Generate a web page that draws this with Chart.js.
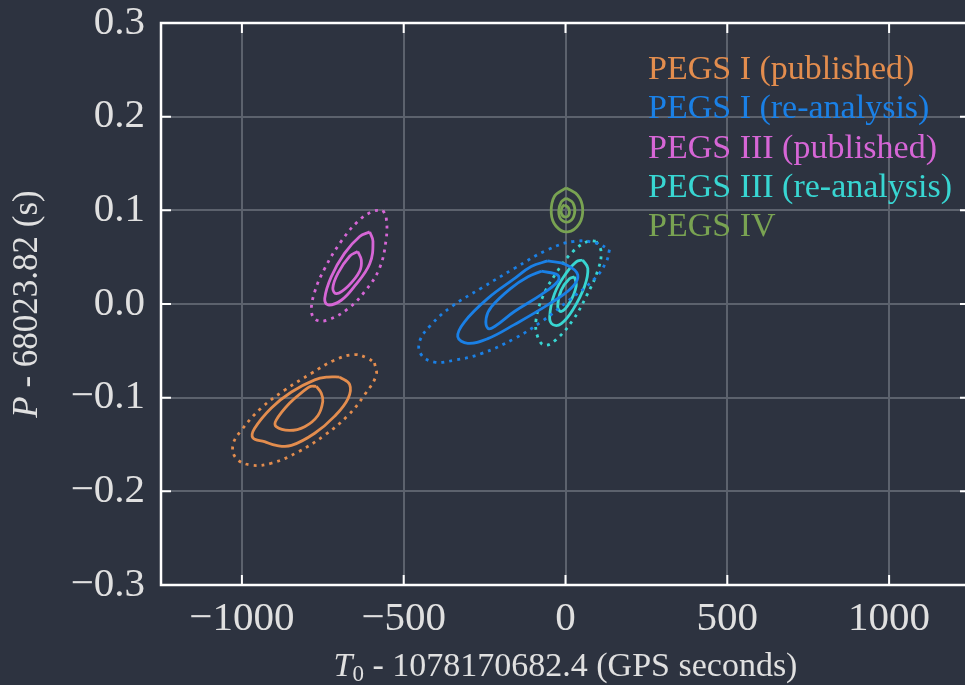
<!DOCTYPE html>
<html>
<head>
<meta charset="utf-8">
<script src="https://cdn.jsdelivr.net/npm/chart.js@4.4.0/dist/chart.umd.min.js"></script>
<style>
  html, body { margin: 0; padding: 0; background: #2d3340; overflow: hidden; }
  #wrap { width: 975px; height: 685px; }
</style>
</head>
<body>
<div id="wrap"><canvas id="chart"></canvas></div>
<script>
// axis ticks
const xTicks = [-1000, -500, 0, 500, 1000];
const yTicks = [-0.3, -0.2, -0.1, 0.0, 0.1, 0.2, 0.3];

const seriesNames = [
  "PEGS I (published)",
  "PEGS I (re-analysis)",
  "PEGS III (published)",
  "PEGS III (re-analysis)",
  "PEGS IV"
];

// contour outlines [T0, P]
const pegs1PubInner = [[-770,-0.088],[-755,-0.095],[-750,-0.104],[-765,-0.119],[-806,-0.131],[-853,-0.135],[-894,-0.131],[-894,-0.124],[-853,-0.106],[-806,-0.092],[-788,-0.088]];
const pegs1PubMid = [[-698,-0.078],[-667,-0.086],[-672,-0.101],[-714,-0.120],[-775,-0.138],[-847,-0.151],[-894,-0.151],[-930,-0.147],[-966,-0.143],[-961,-0.133],[-909,-0.111],[-847,-0.094],[-775,-0.081],[-734,-0.078]];
const pegs1PubOuter = [[-590,-0.063],[-585,-0.076],[-621,-0.097],[-672,-0.119],[-744,-0.140],[-827,-0.158],[-909,-0.170],[-971,-0.172],[-1017,-0.165],[-1028,-0.151],[-1002,-0.135],[-940,-0.111],[-868,-0.092],[-785,-0.074],[-714,-0.060],[-652,-0.054],[-611,-0.058]];

const pegs1ReInner = [[-75,0.035],[-24,0.031],[-24,0.024],[-75,0.010],[-158,-0.008],[-219,-0.024],[-240,-0.026],[-245,-0.015],[-229,-0.003],[-168,0.017],[-116,0.029]];
const pegs1ReMid = [[-55,0.046],[2,0.042],[38,0.031],[18,0.017],[-55,-0.001],[-158,-0.022],[-240,-0.037],[-302,-0.042],[-333,-0.035],[-312,-0.019],[-240,0.006],[-158,0.027],[-106,0.040]];
const pegs1ReOuter = [[136,0.058],[126,0.045],[90,0.027],[7,0.003],[-75,-0.019],[-158,-0.037],[-260,-0.053],[-343,-0.060],[-405,-0.062],[-446,-0.054],[-451,-0.040],[-415,-0.022],[-353,-0.003],[-260,0.017],[-158,0.038],[-55,0.058],[28,0.067],[95,0.065]];

const pegs3PubInner = [[-642,0.056],[-631,0.047],[-636,0.035],[-672,0.019],[-708,0.011],[-719,0.017],[-703,0.033],[-667,0.051]];
const pegs3PubMid = [[-605,0.077],[-595,0.067],[-605,0.043],[-652,0.019],[-693,0.004],[-734,-0.001],[-744,0.006],[-724,0.029],[-683,0.054],[-636,0.072]];
const pegs3PubOuter = [[-564,0.100],[-554,0.092],[-554,0.070],[-575,0.038],[-621,0.013],[-672,-0.005],[-734,-0.017],[-770,-0.017],[-785,-0.008],[-775,0.013],[-744,0.038],[-693,0.067],[-642,0.088],[-595,0.099]];

const pegs3ReInner = [[28,0.029],[33,0.019],[12,0.001],[-13,-0.008],[-24,-0.003],[-13,0.015],[12,0.027]];
const pegs3ReMid = [[53,0.047],[69,0.038],[59,0.019],[23,-0.006],[-13,-0.021],[-39,-0.022],[-49,-0.014],[-34,0.011],[2,0.033],[33,0.045]];
const pegs3ReOuter = [[95,0.067],[110,0.056],[100,0.036],[64,0.008],[23,-0.017],[-29,-0.038],[-65,-0.044],[-86,-0.035],[-91,-0.017],[-70,0.008],[-29,0.033],[23,0.056],[69,0.067]];

const pegs4Inner = [[-3,0.106],[10,0.102],[10,0.095],[-3,0.093],[-13,0.097],[-11,0.103]];
const pegs4Mid = [[2,0.113],[23,0.108],[28,0.097],[12,0.088],[-13,0.090],[-21,0.099],[-13,0.109]];
const pegs4Outer = [[2,0.124],[38,0.116],[53,0.102],[43,0.086],[7,0.077],[-29,0.083],[-44,0.097],[-34,0.115]];

const seriesContours = [
  [pegs1PubInner, pegs1PubMid, pegs1PubOuter],
  [pegs1ReInner, pegs1ReMid, pegs1ReOuter],
  [pegs3PubInner, pegs3PubMid, pegs3PubOuter],
  [pegs3ReInner, pegs3ReMid, pegs3ReOuter],
  [pegs4Inner, pegs4Mid, pegs4Outer]
];

const colors = ["#e38d4e", "#1a80e6", "#d666d6", "#38d6d2", "#79a352"];
// PEGS IV has no dotted outer level in the figure
const dottedOuter = [true, true, true, true, false];
const serif = '"Liberation Serif", "Times New Roman", serif';

// build one line dataset per contour level
const datasets = [];
seriesContours.forEach((levels, s) => {
  levels.forEach((pts, lvl) => {
    const closed = pts.concat([pts[0]]);
    datasets.push({
      label: seriesNames[s],
      data: closed.map(p => ({ x: p[0], y: p[1] })),
      showLine: true,
      pointRadius: 0,
      borderColor: colors[s],
      borderWidth: 2.8,
      borderDash: (lvl === 2 && dottedOuter[s]) ? [3, 5] : [],
      tension: 0.4,
      fill: false
    });
  });
});

const frameAndText = {
  id: "frameAndText",
  afterDraw(chart) {
    const ctx = chart.ctx;
    const a = chart.chartArea;
    const xs = chart.scales.x, ys = chart.scales.y;
    ctx.save();

    // frame with inward ticks
    ctx.strokeStyle = "#ffffff";
    ctx.lineWidth = 2.5;
    ctx.strokeRect(a.left, a.top, a.right - a.left, a.bottom - a.top);
    ctx.lineWidth = 2;
    ctx.beginPath();
    xTicks.forEach(v => {
      const px = xs.getPixelForValue(v);
      ctx.moveTo(px, a.bottom); ctx.lineTo(px, a.bottom - 10);
      ctx.moveTo(px, a.top); ctx.lineTo(px, a.top + 10);
    });
    yTicks.forEach(v => {
      const py = ys.getPixelForValue(v);
      ctx.moveTo(a.left, py); ctx.lineTo(a.left + 10, py);
      ctx.moveTo(a.right, py); ctx.lineTo(a.right - 10, py);
    });
    ctx.stroke();

    // legend (text only)
    ctx.font = "34px " + serif;
    ctx.textAlign = "left";
    ctx.textBaseline = "middle";
    seriesNames.forEach((name, i) => {
      ctx.fillStyle = colors[i];
      ctx.fillText(name, 648, 70 + i * 39.3);
    });

    // axis titles
    ctx.fillStyle = "#e0e0e0";
    const cy = (a.top + a.bottom) / 2;
    ctx.save();
    ctx.translate(28, cy);
    ctx.rotate(-Math.PI / 2);
    ctx.font = "italic 35px " + serif;
    const wP = ctx.measureText("P").width;
    ctx.font = "35px " + serif;
    const yRest = " - 68023.82 (s)";
    const wR = ctx.measureText(yRest).width;
    let x0 = -(wP + wR) / 2;
    ctx.font = "italic 35px " + serif;
    ctx.fillText("P", x0, 0);
    ctx.font = "35px " + serif;
    ctx.fillText(yRest, x0 + wP, 0);
    ctx.restore();

    const xRest = " - 1078170682.4 (GPS seconds)";
    ctx.font = "italic 34px " + serif;
    const wT = ctx.measureText("T").width;
    ctx.font = "23px " + serif;
    const w0 = ctx.measureText("0").width;
    ctx.font = "34px " + serif;
    const wX = ctx.measureText(xRest).width;
    const cx = (a.left + a.right) / 2;
    let sx = cx - (wT + w0 + wX) / 2;
    const ty = 667;
    ctx.font = "italic 34px " + serif;
    ctx.fillText("T", sx, ty);
    ctx.font = "23px " + serif;
    ctx.fillText("0", sx + wT, ty + 8);
    ctx.font = "34px " + serif;
    ctx.fillText(xRest, sx + wT + w0, ty);

    ctx.restore();
  }
};

const bgPlugin = {
  id: "bg",
  beforeDraw(chart) {
    const ctx = chart.ctx;
    ctx.save();
    ctx.fillStyle = "#2d3340";
    ctx.fillRect(0, 0, chart.width, chart.height);
    ctx.restore();
  }
};

new Chart(document.getElementById("chart"), {
  type: "scatter",
  data: { datasets: datasets },
  options: {
    responsive: true,
    maintainAspectRatio: false,
    animation: false,
    layout: { padding: { left: 0, right: 5, top: 23, bottom: 0 } },
    plugins: {
      legend: { display: false },
      tooltip: { enabled: false }
    },
    scales: {
      x: {
        type: "linear",
        min: -1250,
        max: 1250,
        afterBuildTicks: axis => { axis.ticks = xTicks.map(v => ({ value: v })); },
        afterFit: axis => {
          axis.height = 100;
          axis.paddingLeft = 0;
          axis.paddingRight = 0;
        },
        grid: { color: "#5c626d", lineWidth: 2, drawTicks: false },
        border: { display: false },
        ticks: {
          padding: 10,
          color: "#e0e0e0",
          font: { family: serif, size: 41 },
          maxRotation: 0,
          autoSkip: false,
          callback: v => String(v).replace("-", "\u2212")
        }
      },
      y: {
        type: "linear",
        min: -0.3,
        max: 0.3,
        afterBuildTicks: axis => { axis.ticks = yTicks.map(v => ({ value: v })); },
        afterFit: axis => {
          axis.width = 161;
          axis.paddingTop = 0;
          axis.paddingBottom = 0;
        },
        grid: { color: "#5c626d", lineWidth: 2, drawTicks: false },
        border: { display: false },
        ticks: {
          padding: 16,
          color: "#e0e0e0",
          font: { family: serif, size: 41 },
          autoSkip: false,
          callback: v => (Math.abs(v) < 1e-9 ? "0.0" : v.toFixed(1).replace("-", "\u2212"))
        }
      }
    }
  },
  plugins: [bgPlugin, frameAndText]
});
</script>
</body>
</html>
